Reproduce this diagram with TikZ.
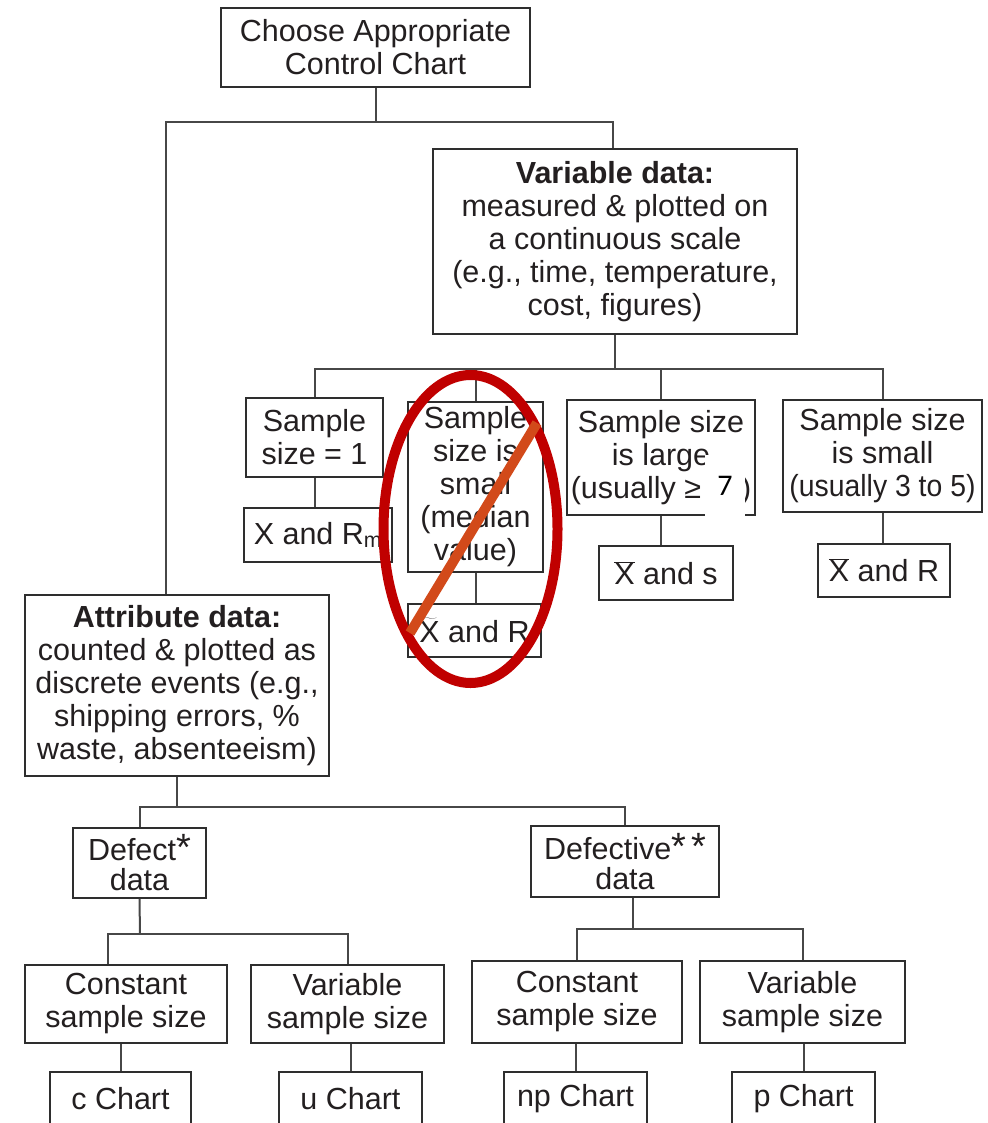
\documentclass[tikz,border=0pt]{standalone}
\usepackage{fontspec}
\usepackage{graphicx}
\setmainfont{Liberation Sans}
\newfontfamily\patchfont{Carlito}
\definecolor{ink}{HTML}{231F20}
\definecolor{boxline}{HTML}{2E2E2E}
\definecolor{linkgray}{HTML}{474747}
\definecolor{ringred}{HTML}{C00000}
\definecolor{slashorange}{HTML}{D24A1A}
\newcommand{\xbar}{\ensuremath{\overline{\mbox{X}}}}
\newcommand{\xtilde}{\ensuremath{\widetilde{\mbox{X}}}}
\newcommand{\bigstar}{{\fontsize{38}{30}\selectfont *}}
\begin{document}
\begin{tikzpicture}[x=1pt,y=-1pt,
  box/.style={draw=boxline, line width=1.8pt, align=center, inner sep=0pt,
    text=ink, font=\fontsize{30.5}{33}\selectfont},
  tightbox/.style={box, font=\fontsize{30.5}{30}\selectfont},
  link/.style={draw=linkgray, line width=2pt},
]
\useasboundingbox (0,0) rectangle (987,1123);
\clip (0,0) rectangle (987,1123);

% top level
\node[box, minimum width=309, minimum height=79] (top) at (375.5,47.5)
  {Choose Appropriate\\Control Chart};
\node[box, minimum width=364, minimum height=185] (var) at (615,241.5)
  {\textbf{Variable data:}\\measured \& plotted on\\a continuous scale\\(e.g., time, temperature,\\cost, figures)};
\node[box, minimum width=304, minimum height=181] (attr) at (177,685.5)
  {\textbf{Attribute data:}\\counted \& plotted as\\discrete events (e.g.,\\shipping errors, \%\\waste, absenteeism)};

% variable data branch
\node[box, minimum width=137, minimum height=79] (s1) at (314.5,437.5) {Sample\\size = 1};
\node[box, minimum width=148, minimum height=54] (xrm) at (318,535) {X and R\textsubscript{m}};
\node[box, minimum width=135, minimum height=170] (med) at (475.5,487)
  {Sample\\size is\\small\\(median\\value)};
\node[box, minimum width=133, minimum height=53] (xtr) at (474.5,630.5) {\xtilde{} and R};
\node[box, minimum width=188, minimum height=115] (large) at (661,457.5)
  {Sample size\\is large\\(usually ≥\hspace{40pt})};
\node[box, minimum width=134, minimum height=54] (xs) at (666,573) {\xbar{} and s};
\node[box, minimum width=199, minimum height=112] (small) at (882.5,456)
  {Sample size\\is small\\\scalebox{0.93}[1]{(usually 3 to 5)}};
\node[box, minimum width=132, minimum height=53] (xr) at (884,570.5) {\xbar{} and R};

% attribute data branch
\node[tightbox, minimum width=133, minimum height=70] (defect) at (139.5,863) {Defect\bigstar\\data};
\node[tightbox, minimum width=188, minimum height=71] (defective) at (625,861.5) {Defective\bigstar\,\bigstar\\data};
\node[box, minimum width=202, minimum height=78] (constL) at (126,1004) {Constant\\sample size};
\node[box, minimum width=193, minimum height=78] (varL) at (347.5,1004) {Variable\\sample size};
\node[box, minimum width=210, minimum height=82] (constR) at (577,1002) {Constant\\sample size};
\node[box, minimum width=205, minimum height=82] (varR) at (802.5,1002) {Variable\\sample size};
\node[box, minimum width=141, minimum height=54] (cchart) at (120.5,1099) {c Chart};
\node[box, minimum width=143, minimum height=54] (uchart) at (350.5,1099) {u Chart};
\node[box, minimum width=143, minimum height=54] (npchart) at (575.5,1099) {np Chart};
\node[box, minimum width=143, minimum height=54] (pchart) at (803.5,1099) {p Chart};

% junction points of the connector buses
\coordinate (busL) at (166,122);
\coordinate (busR) at (613,122);
\coordinate (vbus) at (615,369);
\coordinate (abus) at (177,807);
\coordinate (dbus) at (140,934);
\coordinate (dleft) at (108,934);
\coordinate (dvbus) at (633,929);

% connectors
\draw[link] (top.south) -- (top.south |- busL);
\draw[link] (busL |- attr.north) -- (busL) -- (busR) -- (busR |- var.north);

\draw[link] (var.south) -- (vbus);
\draw[link] (s1.north) |- (vbus);
\draw[link] (small.north) |- (vbus);
\draw[link] (med.north) -- (med.north |- vbus);
\draw[link] (large.north) -- (large.north |- vbus);
\draw[link] (s1.south) -- (s1.south |- xrm.north);
\draw[link] (med.south) -- (med.south |- xtr.north);
\draw[link] (large.south) -- (large.south |- xs.north);
\draw[link] (small.south) -- (small.south |- xr.north);

\draw[link] (attr.south) -- (abus);
\draw[link] (defect.north) |- (abus);
\draw[link] (defective.north) |- (abus);

\draw[link] (defect.south) -- (dbus);
\draw[link] (dleft |- constL.north) -- (dleft) -| (varL.north);
\draw[link] (dvbus |- defective.south) -- (dvbus);
\draw[link] (constR.north) |- (dvbus);
\draw[link] (varR.north) |- (dvbus);

\draw[link] (cchart.north) -- (cchart.north |- constL.south);
\draw[link] (uchart.north) -- (uchart.north |- varL.south);
\draw[link] (npchart.north) -- (npchart.north |- constR.south);
\draw[link] (pchart.north) -- (pchart.north |- varR.south);

% pasted patch with the replacement value
\node[fill=white, inner sep=0pt, minimum width=40, minimum height=61,
  font=\patchfont\fontsize{30}{30}\selectfont] (seven) at (725,485.5) {7};

% crossed-out option
\draw[ringred, line width=10pt] (470.5,529) ellipse [x radius=87pt, y radius=154pt];
\draw[slashorange, line width=10pt] (410,633) -- (537,423);
\end{tikzpicture}
\end{document}
